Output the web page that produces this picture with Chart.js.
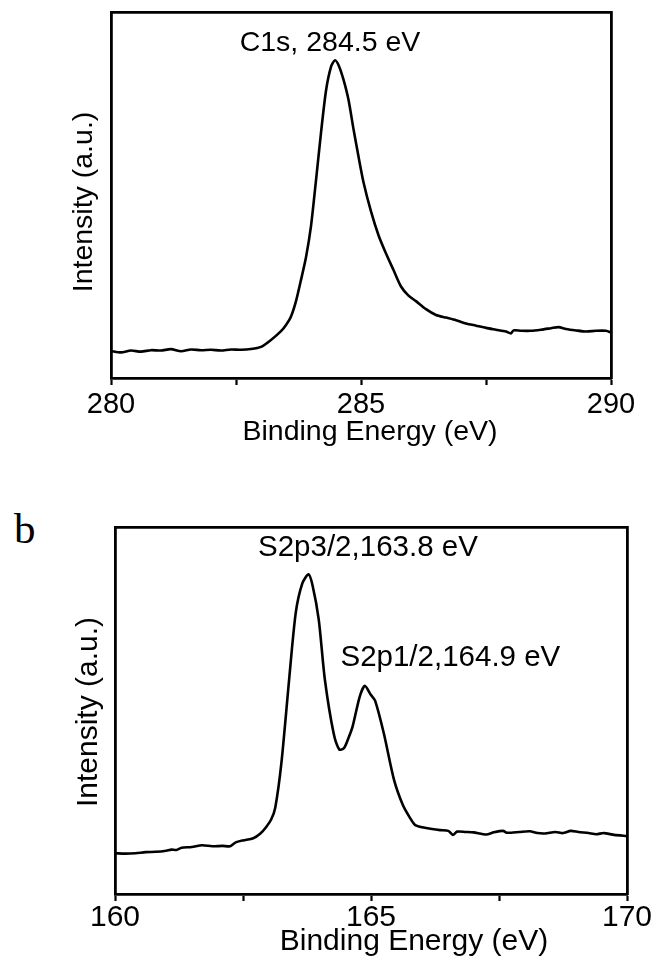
<!DOCTYPE html>
<html>
<head>
<meta charset="utf-8">
<script src="https://cdn.jsdelivr.net/npm/chart.js@4.4.1/dist/chart.umd.min.js"></script>
<style>
  html, body { margin: 0; padding: 0; background: #fff; }
  body { width: 657px; height: 961px; position: relative; overflow: hidden; }
  #wrapA { position: absolute; left: 0; top: 0; width: 657px; height: 470px; }
  #wrapB { position: absolute; left: 0; top: 480px; width: 657px; height: 481px; }
  #panelB { position: absolute; left: 14px; top: 507px; font-family: "Liberation Serif", "DejaVu Serif", serif; font-size: 43px; line-height: 43px; color: #000; }
</style>
</head>
<body>
<div id="wrapA"><canvas id="chartA"></canvas></div>
<div id="panelB">b</div>
<div id="wrapB"><canvas id="chartB"></canvas></div>
<script>
// ---- Panel a: C1s ----
const energyC = [280.0, 280.2, 280.4, 280.6, 280.8, 281.0, 281.2, 281.4, 281.6, 281.8, 282.0, 282.2, 282.4, 282.6, 282.8, 283.0, 283.2, 283.4, 283.5, 283.6, 283.7, 283.8, 283.9, 284.0, 284.1, 284.2, 284.3, 284.4, 284.48, 284.56, 284.65, 284.75, 284.85, 284.95, 285.05, 285.2, 285.35, 285.5, 285.65, 285.8, 285.95, 286.1, 286.3, 286.5, 286.7, 286.9, 287.1, 287.3, 287.5, 287.7, 287.9, 288.0, 288.05, 288.2, 288.4, 288.6, 288.8, 288.95, 289.1, 289.3, 289.5, 289.7, 289.9, 290.0];
const intensityC = [7.4, 7.0, 7.5, 7.2, 7.6, 7.5, 7.9, 7.3, 7.8, 7.6, 7.7, 7.5, 7.8, 7.7, 7.9, 8.5, 10.4, 12.8, 14.5, 16.8, 21.0, 26.8, 33.0, 41.5, 54.0, 67.0, 78.5, 85.0, 86.8, 85.2, 81.5, 76.0, 68.0, 60.5, 53.5, 45.5, 39.0, 34.0, 29.5, 25.0, 22.5, 21.0, 18.8, 17.2, 16.5, 15.8, 14.9, 14.3, 13.7, 13.2, 12.7, 12.2, 13.0, 12.9, 12.9, 13.2, 13.6, 13.9, 13.4, 13.0, 12.7, 12.9, 12.9, 12.4];
const ticksC = [280, 285, 290];
const labelC = "C1s, 284.5 eV";
const labelCPos = [284.38, 91.5];

// ---- Panel b: S2p ----
const energyS = [160.0, 160.2, 160.4, 160.6, 160.8, 161.0, 161.1, 161.2, 161.3, 161.5, 161.7, 161.9, 162.1, 162.25, 162.35, 162.5, 162.7, 162.84, 162.95, 163.05, 163.13, 163.25, 163.4, 163.53, 163.66, 163.78, 163.86, 163.98, 164.1, 164.27, 164.38, 164.47, 164.56, 164.64, 164.78, 164.88, 165.0, 165.08, 165.25, 165.45, 165.62, 165.75, 165.86, 166.0, 166.19, 166.35, 166.51, 166.6, 166.68, 166.85, 167.0, 167.25, 167.4, 167.58, 167.65, 167.74, 167.9, 168.1, 168.25, 168.4, 168.6, 168.75, 168.9, 169.05, 169.25, 169.4, 169.55, 169.75, 170.0];
const intensityS = [11.1, 11.0, 11.1, 11.4, 11.5, 11.8, 12.1, 12.0, 12.6, 12.8, 13.3, 13.0, 13.1, 13.0, 14.0, 14.6, 15.2, 16.5, 18.2, 20.3, 23.5, 35.7, 58.3, 76.6, 84.7, 87.1, 84.0, 74.7, 58.3, 43.8, 39.4, 39.7, 42.5, 45.6, 53.8, 56.7, 54.2, 52.7, 43.8, 31.1, 24.3, 21.0, 18.8, 18.2, 17.7, 17.4, 17.2, 16.1, 17.0, 16.9, 16.8, 16.2, 16.8, 17.2, 16.7, 16.7, 16.9, 17.1, 16.6, 16.5, 16.9, 16.6, 17.2, 16.9, 16.6, 16.3, 16.6, 16.1, 15.8];
const ticksS = [160, 165, 170];
const labelS1 = "S2p3/2,163.8 eV";
const labelS1Pos = [164.94, 94.3];
const labelS2 = "S2p1/2,164.9 eV";
const labelS2Pos = [166.55, 64.3];

const xTitle = "Binding Energy (eV)";
const yTitle = "Intensity (a.u.)";

const FONT = "'Liberation Sans', Arial, sans-serif";

// Draws the peak labels (at data coordinates) and the axis titles.
const labelPlugin = {
  id: 'peakLabels',
  afterDatasetsDraw(chart, args, opts) {
    const {ctx, scales} = chart;
    ctx.save();
    ctx.fillStyle = '#000';
    ctx.textAlign = 'center';
    ctx.textBaseline = 'middle';
    ctx.font = opts.annSize + 'px ' + FONT;
    (opts.items || []).forEach(it => {
      ctx.fillText(it.text, scales.x.getPixelForValue(it.pos[0]), scales.y.getPixelForValue(it.pos[1]));
    });
    ctx.font = opts.titleSize + 'px ' + FONT;
    ctx.fillText(xTitle, opts.xTitleAt[0], opts.xTitleAt[1]);
    ctx.translate(opts.yTitleAt[0], opts.yTitleAt[1]);
    ctx.rotate(-Math.PI / 2);
    ctx.fillText(yTitle, 0, 0);
    ctx.restore();
  }
};

function makeChart(canvasId, xs, ys, majorTicks, cfg) {
  const pts = xs.map((x, i) => ({x: x, y: ys[i]}));
  const xmin = majorTicks[0], xmax = majorTicks[majorTicks.length - 1];
  const border = {display: true, color: '#000', width: 2.8};
  return new Chart(document.getElementById(canvasId), {
    type: 'line',
    data: {datasets: [{data: pts, borderColor: '#000', borderWidth: 2.6, pointRadius: 0, tension: 0.25, fill: false}]},
    options: {
      responsive: true,
      maintainAspectRatio: false,
      animation: false,
      layout: {padding: {top: cfg.padTop, left: 0, right: 0, bottom: 0}},
      plugins: {
        legend: {display: false},
        tooltip: {enabled: false},
        peakLabels: {annSize: cfg.annSize, titleSize: cfg.titleSize, items: cfg.items, xTitleAt: cfg.xTitleAt, yTitleAt: cfg.yTitleAt}
      },
      scales: {
        x: {
          type: 'linear', position: 'bottom', min: xmin, max: xmax,
          border: border,
          grid: {display: true, drawOnChartArea: false, drawTicks: true, tickLength: 7, tickWidth: 2.2, tickColor: '#000'},
          ticks: {
            stepSize: (xmax - xmin) / 4, autoSkip: false, maxRotation: 0, padding: cfg.tickPad,
            color: '#000', font: {family: FONT, size: cfg.tickSize},
            callback: v => (majorTicks.includes(v) ? String(v) : '')
          },
          title: {display: false, text: xTitle},
          afterFit: s => { s.height = cfg.xHeight; }
        },
        xTop: {
          type: 'linear', position: 'top', min: xmin, max: xmax,
          border: border,
          grid: {display: false},
          ticks: {display: false},
          afterFit: s => { s.height = 0; }
        },
        y: {
          type: 'linear', position: 'left', min: 0, max: 100,
          border: border,
          grid: {display: false},
          ticks: {display: false},
          title: {display: false, text: yTitle},
          afterFit: s => { s.width = cfg.yWidth; }
        },
        yRight: {
          type: 'linear', position: 'right', min: 0, max: 100,
          border: border,
          grid: {display: false},
          ticks: {display: false},
          afterFit: s => { s.width = cfg.rightWidth; }
        }
      }
    },
    plugins: [labelPlugin]
  });
}

makeChart('chartA', energyC, intensityC, ticksC, {
  padTop: 12, xHeight: 92, yWidth: 111, rightWidth: 46,
  tickPad: 3, tickSize: 29, titleSize: 28.5, annSize: 28.5,
  xTitleAt: [370, 432], yTitleAt: [84, 202],
  items: [{text: labelC, pos: labelCPos}]
});

makeChart('chartB', energyS, intensityS, ticksS, {
  padTop: 47, xHeight: 67, yWidth: 115, rightWidth: 30,
  tickPad: -1, tickSize: 30, titleSize: 30, annSize: 29.5,
  xTitleAt: [414, 462], yTitleAt: [89, 232],
  items: [{text: labelS1, pos: labelS1Pos}, {text: labelS2, pos: labelS2Pos}]
});
</script>
</body>
</html>
